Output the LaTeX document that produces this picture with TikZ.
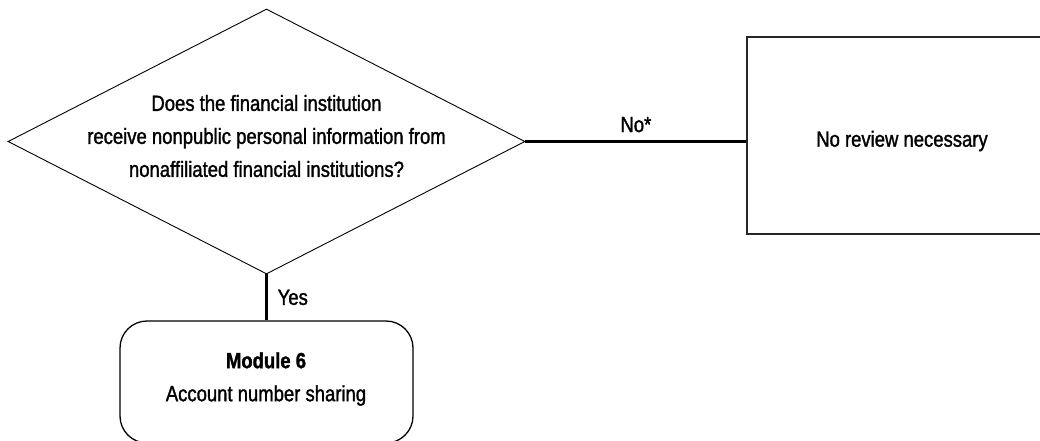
\documentclass[tikz,border=0pt]{standalone}
\usepackage{fontspec}
\setmainfont{Liberation Sans}[FakeStretch=0.84, FakeBold=1.4]
\usetikzlibrary{shapes.geometric}
\begin{document}
\begin{tikzpicture}[x=1pt,y=-1pt,
  every node/.style={font=\fontsize{22}{33}\selectfont},
  decision/.style={draw=black, line width=0.9pt, diamond, inner sep=0pt,
    minimum width=517pt, minimum height=265pt},
  outcome/.style={draw=black!85, line width=1.4pt, rectangle, inner sep=0pt},
  module/.style={draw=black, line width=1.3pt, rectangle, rounded corners=27pt, inner sep=0pt},
  conn/.style={line width=2.4pt, black},
  lbl/.style={inner sep=0pt, text=black}]
  \clip (0,0) rectangle (1040,441);
  % decision diamond and its question
  \node[decision] (q) at (266.5,141.5) {};
  \node[lbl, align=center] (qt) at (266.5,136) {Does the financial institution\\receive nonpublic personal information from\\nonaffiliated financial institutions?};
  % outcome box on the right (runs past the page edge)
  \node[outcome, minimum width=326pt, minimum height=197pt] (nr) at (910,135.5) {};
  \node[lbl] (nrt) at (902,141) {No review necessary};
  % module box below
  \node[module, minimum width=293pt, minimum height=122pt] (m6) at (266.5,382) {};
  \node[lbl, align=center] (m6t) at (266,379) {\textbf{Module 6}\\Account number sharing};
  % connectors
  \draw[conn] (q.east) -- (q.east -| nr.west) node[midway, above=8pt, lbl] (no) {No*};
  \draw[conn] (q.south) -- (m6.north) node[midway, right=10pt, lbl] (yes) {Yes};
\end{tikzpicture}
\end{document}
